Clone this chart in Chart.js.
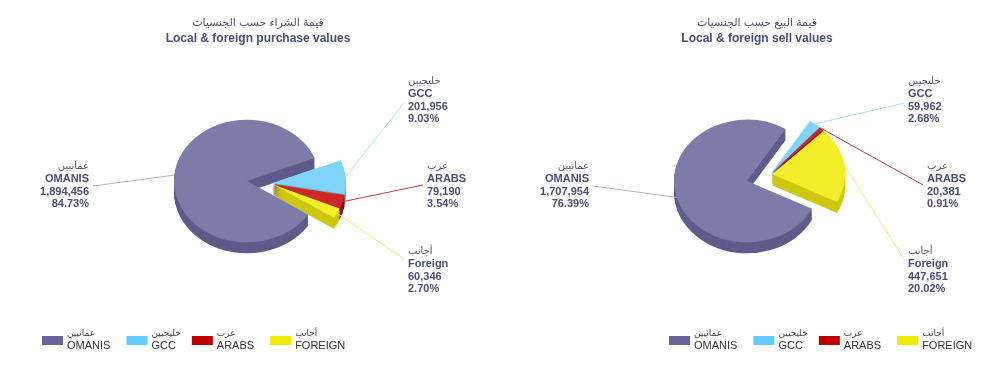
<!DOCTYPE html>
<html>
<head>
<meta charset="utf-8">
<script src="https://cdn.jsdelivr.net/npm/chart.js@4"></script>
<style>
  body { margin: 0; background: #fff; }
  .wrap { display: flex; width: 1000px; height: 383px; }
  .box { position: relative; width: 500px; height: 383px; }
</style>
</head>
<body>
<div class="wrap">
  <div class="box"><canvas id="buyChart"></canvas></div>
  <div class="box"><canvas id="sellChart"></canvas></div>
</div>
<script>
// 카테고리 / 값
const categoriesEn = ['OMANIS', 'GCC', 'ARABS', 'Foreign'];
const categoriesAr = ['عمانيين', 'خليجيين', 'عرب', 'أجانب'];
const legendEn = ['OMANIS', 'GCC', 'ARABS', 'FOREIGN'];
const purchaseValues = [1894456, 201956, 79190, 60346];
const sellValues = [1707954, 59962, 20381, 447651];

// 색상
const sliceColors = ['#7d7ca8', '#80d4fb', '#d02828', '#f3ed2a'];
const sideColors = ['#5d5c8a', '#58b4dc', '#8e0c0c', '#cdc80e'];
const legendColors = ['#66669a', '#66ccff', '#c00000', '#f0ec00'];
const lineColors = ['#c9aab8', '#a6e2f2', '#b84040', '#ece874'];

// 라벨 위치 (두 차트 공통)
const labelSpots = [
  { x: 89, y: 166, align: 'right', lx: 93, ly: 186 },
  { x: 408, y: 81, align: 'left', lx: 404, ly: 103 },
  { x: 427, y: 166, align: 'left', lx: 423, ly: 185 },
  { x: 408, y: 251, align: 'left', lx: 404, ly: 259 }
];

const FONT = "'Liberation Sans', Arial, 'DejaVu Sans', sans-serif";
const SQUISH = 0.84; // 타원 비율
const DEPTH = 11;    // 3D 두께
const EXPLODE = 24;  // 분리 거리
const GAP = 2;       // 조각 사이 간격

function squish(ctx, cx, cy) {
  ctx.translate(cx, cy);
  ctx.scale(1, SQUISH);
  ctx.translate(-cx, -cy);
}

// 3D 파이 + 라벨 + 범례 그리는 플러그인
const pie3d = {
  id: 'pie3d',
  afterDatasetsUpdate(chart) {
    const arcs = chart.getDatasetMeta(0).data;
    const group = arcs.slice(1);
    const mid = (group[0].startAngle + group[group.length - 1].endAngle) / 2;
    group.forEach(a => {
      const own = (a.startAngle + a.endAngle) / 2;
      a.x += Math.cos(mid) * EXPLODE + Math.cos(own) * GAP;
      a.y += (Math.sin(mid) * EXPLODE + Math.sin(own) * GAP) / SQUISH;
    });
  },
  beforeDatasetsDraw(chart) {
    const ctx = chart.ctx;
    const arcs = chart.getDatasetMeta(0).data;
    const cx = arcs[0].x, cy = arcs[0].y;
    // 옆면 (두께)
    for (let d = DEPTH; d > 0; d--) {
      ctx.save();
      ctx.translate(0, d);
      squish(ctx, cx, cy);
      arcs.forEach((a, i) => {
        ctx.fillStyle = sideColors[i];
        ctx.beginPath();
        ctx.moveTo(a.x, a.y);
        ctx.arc(a.x, a.y, a.outerRadius, a.startAngle, a.endAngle);
        ctx.closePath();
        ctx.fill();
      });
      ctx.restore();
    }
    ctx.save();
    squish(ctx, cx, cy);
  },
  afterDatasetsDraw(chart) {
    chart.ctx.restore();
  },
  afterDraw(chart, args, opts) {
    const ctx = chart.ctx;
    const arcs = chart.getDatasetMeta(0).data;
    const values = chart.data.datasets[0].data;
    const total = values.reduce((s, v) => s + v, 0);
    const cy = arcs[0].y;

    ctx.save();
    // 제목
    ctx.textAlign = 'center';
    ctx.textBaseline = 'middle';
    ctx.fillStyle = '#555566';
    ctx.font = '11px ' + FONT;
    ctx.fillText(opts.titleAr, opts.titleX, 23);
    ctx.fillStyle = '#4d4d7a';
    ctx.font = 'bold 12px ' + FONT;
    ctx.fillText(opts.titleEn, opts.titleX, 39);

    // 라벨과 지시선
    arcs.forEach((a, i) => {
      const spot = labelSpots[i];
      const mid = (a.startAngle + a.endAngle) / 2;
      const px = a.x + Math.cos(mid) * a.outerRadius;
      const py = cy + (a.y + Math.sin(mid) * a.outerRadius - cy) * SQUISH;
      ctx.strokeStyle = lineColors[i];
      ctx.lineWidth = 1;
      ctx.beginPath();
      ctx.moveTo(spot.lx, spot.ly);
      ctx.lineTo(px, py);
      ctx.stroke();

      ctx.textAlign = spot.align;
      ctx.fillStyle = '#555566';
      ctx.font = '10px ' + FONT;
      ctx.fillText(categoriesAr[i], spot.x, spot.y);
      ctx.fillStyle = '#4d4d7a';
      ctx.font = 'bold 11px ' + FONT;
      ctx.fillText(categoriesEn[i], spot.x, spot.y + 13);
      ctx.fillText(values[i].toLocaleString('en-US'), spot.x, spot.y + 25.5);
      ctx.fillText((values[i] / total * 100).toFixed(2) + '%', spot.x, spot.y + 38);
    });

    // 범례
    let x = opts.legendX;
    ctx.textAlign = 'left';
    legendEn.forEach((name, i) => {
      ctx.fillStyle = legendColors[i];
      ctx.fillRect(x, 336, 21, 9);
      ctx.fillStyle = '#444';
      ctx.font = '9px ' + FONT;
      ctx.fillText(categoriesAr[i], x + 25, 334);
      ctx.fillStyle = '#333';
      ctx.font = '11px ' + FONT;
      ctx.fillText(name, x + 25, 346);
      x += 25 + ctx.measureText(name).width + 16;
    });
    ctx.restore();
  }
};

function createPie(canvasId, values, rotation, extra) {
  const ctx = document.getElementById(canvasId).getContext('2d');
  return new Chart(ctx, {
    type: 'pie',
    data: {
      labels: categoriesEn,
      datasets: [{
        data: values,
        backgroundColor: sliceColors,
        borderWidth: 0,
        rotation: rotation,
        radius: 73,
        clip: false
      }]
    },
    options: {
      responsive: true,
      maintainAspectRatio: false,
      animation: false,
      events: [],
      layout: { padding: { top: 60, bottom: 81, left: 0, right: 6 } },
      plugins: {
        legend: { display: false },
        tooltip: { enabled: false },
        pie3d: extra
      }
    },
    plugins: [pie3d]
  });
}

createPie('buyChart', purchaseValues, 123, {
  titleAr: 'قيمة الشراء حسب الجنسيات',
  titleEn: 'Local & foreign purchase values',
  titleX: 258,
  legendX: 42
});
createPie('sellChart', sellValues, 117, {
  titleAr: 'قيمة البيع حسب الجنسيات',
  titleEn: 'Local & foreign sell values',
  titleX: 257,
  legendX: 169
});
</script>
</body>
</html>
